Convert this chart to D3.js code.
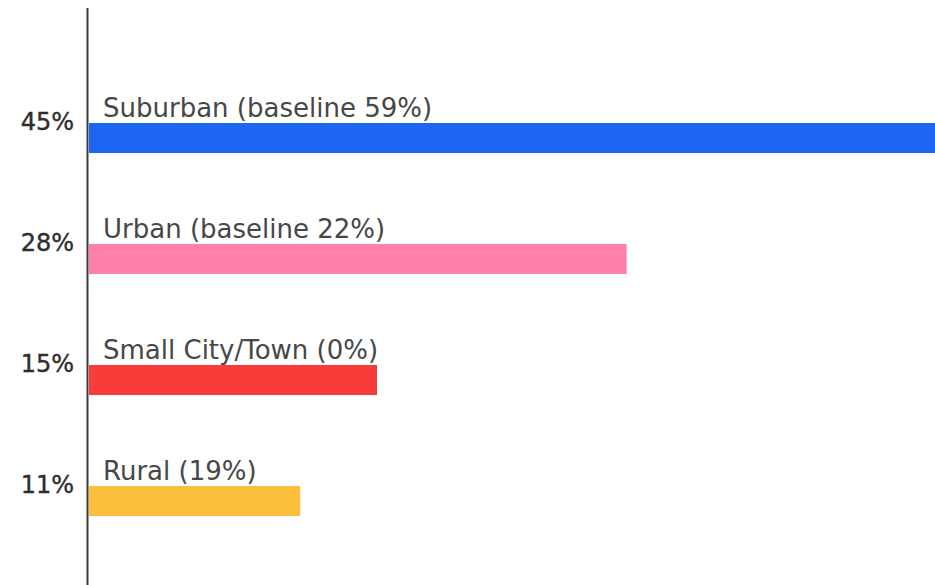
<!DOCTYPE html>
<html>
<head>
<meta charset="utf-8">
<script src="https://cdn.jsdelivr.net/npm/d3@7/dist/d3.min.js"></script>
<style>
  html, body { margin: 0; padding: 0; background: #fff; }
  svg { display: block; }
  text { font-family: "DejaVu Sans", "Noto Sans", sans-serif; }
</style>
</head>
<body>
<svg id="chart" width="935" height="585"></svg>
<script>
// Community type share, with baseline share in the label
const categories = ["Suburban", "Urban", "Small City/Town", "Rural"];
const values = [45, 28, 15, 11];
const labels = ["Suburban (baseline 59%)", "Urban (baseline 22%)", "Small City/Town (0%)", "Rural (19%)"];
const colors = ["#1c66f2", "#ff7eaa", "#f73c3a", "#fcbf3c"];

const svg = d3.select("#chart");
const W = 935, H = 585;

const x = d3.scaleLinear().domain([0, 45]).range([89, 953]);
const y = d3.scaleBand().domain(categories).range([123, 516]).paddingInner(0.752).paddingOuter(0);

const g = svg.append("g");

g.selectAll("rect.bar")
  .data(categories)
  .join("rect")
  .attr("class", "bar")
  .attr("x", x(0))
  .attr("y", d => y(d))
  .attr("width", (d, i) => x(values[i]) - x(0))
  .attr("height", y.bandwidth())
  .attr("fill", (d, i) => colors[i]);

// category labels above each bar
g.selectAll("text.cat")
  .data(categories)
  .join("text")
  .attr("class", "cat")
  .attr("x", 103)
  .attr("y", d => y(d) - 6)
  .attr("font-size", 26)
  .attr("fill", "#474747")
  .text((d, i) => labels[i]);

// value labels on the left of the axis
g.selectAll("text.val")
  .data(categories)
  .join("text")
  .attr("class", "val")
  .attr("x", 74)
  .attr("y", d => y(d) + 7)
  .attr("text-anchor", "end")
  .attr("font-size", 24)
  .attr("fill", "#2e2e2e")
  .attr("stroke", "#2e2e2e")
  .attr("stroke-width", 0.4)
  .text((d, i) => values[i] + "%");

// vertical axis line
svg.append("line")
  .attr("x1", 87.5).attr("x2", 87.5)
  .attr("y1", 8).attr("y2", H)
  .attr("stroke", "#3a3a3a")
  .attr("stroke-width", 2);
</script>
</body>
</html>
